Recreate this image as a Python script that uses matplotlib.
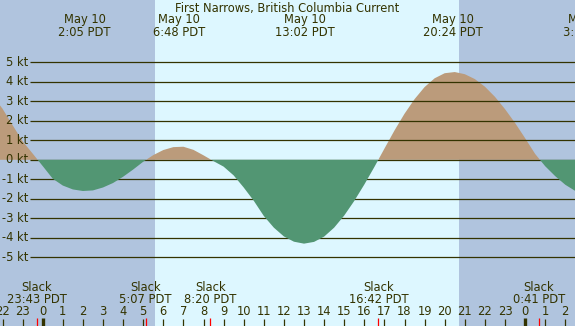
import matplotlib.pyplot as plt
import matplotlib.transforms as mtransforms

plt.rcParams['font.family'] = ['DejaVu Sans']

title = "First Narrows, British Columbia Current"

# current speed (kt) every half hour, hours from May 10 00:00 PDT
hours = [-2.5, -2.0, -1.5, -1.0, -0.5, 0.0, 0.5, 1.0, 1.5, 2.0,
         2.5, 3.0, 3.5, 4.0, 4.5, 5.0, 5.5, 6.0, 6.5, 7.0,
         7.5, 8.0, 8.5, 9.0, 9.5, 10.0, 10.5, 11.0, 11.5, 12.0,
         12.5, 13.0, 13.5, 14.0, 14.5, 15.0, 15.5, 16.0, 16.5, 17.0,
         17.5, 18.0, 18.5, 19.0, 19.5, 20.0, 20.5, 21.0, 21.5, 22.0,
         22.5, 23.0, 23.5, 24.0, 24.5, 25.0, 25.5, 26.0, 26.5, 27.0]
current = [3.30, 2.62, 1.78, 0.95, 0.32, -0.32, -0.97, -1.32, -1.52, -1.60,
           -1.57, -1.42, -1.19, -0.87, -0.50, -0.10, 0.24, 0.50, 0.65, 0.67,
           0.51, 0.23, -0.07, -0.35, -0.80, -1.42, -2.10, -2.88, -3.48, -3.93,
           -4.20, -4.30, -4.21, -3.94, -3.48, -2.86, -2.11, -1.27, -0.37, 0.57,
           1.50, 2.36, 3.11, 3.73, 4.18, 4.44, 4.50, 4.39, 4.14, 3.75,
           3.23, 2.60, 1.89, 1.11, 0.30, -0.33, -0.84, -1.28, -1.60, -1.78]

# max / min current events (top labels)
extreme_date = ["May 10", "May 10", "May 10", "May 10", "May 11"]
extreme_clock = ["2:05", "6:48", "13:02", "20:24", "3:10"]
extreme_day = [0, 0, 0, 0, 1]

# slack water events (bottom labels)
slack_clock = ["23:43", "5:07", "8:20", "16:42", "0:41"]
slack_day = [-1, 0, 0, 0, 1]

# sunrise / sunset (hours)
sunrise = 5.59
sunset = 20.71

speed_levels = [5, 4, 3, 2, 1, 0, -1, -2, -3, -4, -5]
hour_ticks = list(range(-2, 27))


def to_hours(clock, day):
    h, m = clock.split(":")
    return day * 24 + int(h) + int(m) / 60


# pixel layout of the 575x326 image
W, H = 575, 326
px_per_hour = 20.1
x_zero = 42.7          # pixel of May 10 00:00
px_per_kt = 19.5
y_zero = 159.8         # pixel of 0 kt


def hx(px):
    return (px - x_zero) / px_per_hour


def fy(px):
    return 1 - px / H


text_color = "#333300"
night_color = "#b0c4de"
day_color = "#ddf7ff"
flood_color = "#bb9b7b"
ebb_color = "#529673"

fig = plt.figure(figsize=(W / 100, H / 100), dpi=100)
ax = fig.add_axes([0, 0, 1, 1])
ax.set_xlim(hx(0), hx(W))
ax.set_ylim((y_zero - H) / px_per_kt, y_zero / px_per_kt)
ax.axis("off")
blend = mtransforms.blended_transform_factory(ax.transData, ax.transAxes)

# day / night background
ax.axvspan(hx(0), sunrise, color=night_color, lw=0, zorder=0)
ax.axvspan(sunrise, sunset, color=day_color, lw=0, zorder=0)
ax.axvspan(sunset, hx(W), color=night_color, lw=0, zorder=0)

# flood under the grid, ebb over it
ax.fill_between(hours, current, 0, where=[c >= 0 for c in current],
                interpolate=True, color=flood_color, lw=0, zorder=1)
ax.fill_between(hours, current, 0, where=[c <= 0 for c in current],
                interpolate=True, color=ebb_color, lw=0, zorder=3)

ax.hlines(speed_levels, hx(30), hx(W), color=text_color, lw=0.9, zorder=2)
for lv in speed_levels:
    ax.text(hx(28.5), lv, f"{lv} kt", ha="right", va="center",
            fontsize=8.3, color=text_color, zorder=4)

ax.text(0.5, fy(11.7), title, transform=ax.transAxes, ha="center",
        va="baseline", fontsize=8.3, color=text_color, zorder=4)

for d, c, day in zip(extreme_date, extreme_clock, extreme_day):
    t = to_hours(c, day)
    ax.text(t, fy(23.3), d, transform=blend, ha="center", va="baseline",
            fontsize=8.3, color=text_color, zorder=4)
    ax.text(t, fy(35.7), f"{c} PDT", transform=blend, ha="center",
            va="baseline", fontsize=8.3, color=text_color, zorder=4)

slack_hours = [to_hours(c, d) for c, d in zip(slack_clock, slack_day)]
for c, t in zip(slack_clock, slack_hours):
    ax.text(t, fy(290.7), "Slack", transform=blend, ha="center",
            va="baseline", fontsize=8.3, color=text_color, zorder=4)
    ax.text(t, fy(303.3), f"{c} PDT", transform=blend, ha="center",
            va="baseline", fontsize=8.3, color=text_color, zorder=4)

# hour ticks along the bottom
for h in hour_ticks:
    ax.text(h, fy(315), str(h % 24), transform=blend, ha="center",
            va="baseline", fontsize=8.3, color=text_color, zorder=4)
    if h % 24 == 0:
        ax.vlines(h, 0, fy(317.7), transform=blend, color=text_color,
                  lw=2.4, zorder=4)
    else:
        ax.vlines(h, 0, fy(319.3), transform=blend, color=text_color,
                  lw=0.9, zorder=4)
ax.vlines(slack_hours, 0, fy(317.7), transform=blend, color="red",
          lw=0.9, zorder=5)

fig.savefig("out.png", dpi=100)
